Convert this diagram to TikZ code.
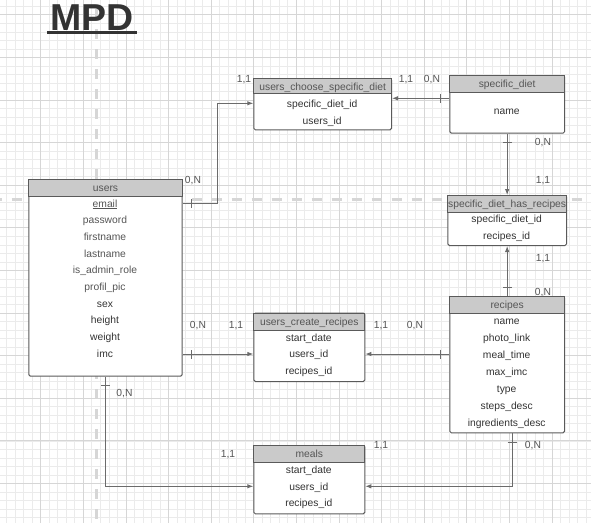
\documentclass[tikz,border=0pt]{standalone}
\usepackage{fontspec}
\setmainfont{Liberation Sans}
\usepackage{tikz}
\usetikzlibrary{arrows.meta,calc,positioning,decorations.markings}
\definecolor{gridminor}{HTML}{EBEBEB}
\definecolor{gridmajor}{HTML}{D6D6D6}
\definecolor{guide}{HTML}{D6D6D6}
\definecolor{frame}{HTML}{5A5A5A}
\definecolor{headfill}{HTML}{CACACA}
\definecolor{linkgray}{HTML}{6B6B6B}
\definecolor{inkgray}{HTML}{333333}
\definecolor{softink}{HTML}{555555}

\begin{document}
\begin{tikzpicture}[x=1pt,y=-1pt,
	table/.style={draw=frame,line width=1pt,fill=white,rounded corners=1.5pt,inner sep=0pt,anchor=north west},
	tablehead/.style={draw=frame,line width=1pt,fill=headfill,inner sep=0pt,anchor=north west,
		text=softink,text height=7.4pt,text depth=0pt,font=\fontsize{10.3}{12}\selectfont},
	field/.style={inner sep=0pt,text=inkgray,text height=7.4pt,text depth=0pt,font=\fontsize{10.3}{12}\selectfont},
	card/.style={inner sep=0pt,text=softink,text height=7.4pt,text depth=0pt,font=\fontsize{10.3}{12}\selectfont},
	link/.style={draw=linkgray,line width=0.9pt,-{Latex[length=6pt,width=4.5pt]},
		postaction={decorate,decoration={markings,mark=at position 9pt with {\draw[linkgray,line width=0.9pt,-] (0,-4.5pt) -- (0,4.5pt);}}}},
	]
	\useasboundingbox (0,0) rectangle (591,523);
	% grid
	\foreach \i in {0,...,70}
		\draw[gridminor,line width=0.7pt] ({-1.9+8.52*\i},0) -- ({-1.9+8.52*\i},523);
	\foreach \j in {0,...,62}
		\draw[gridminor,line width=0.7pt] (0,{-2.2+8.52*\j}) -- (591,{-2.2+8.52*\j});
	\foreach \i in {0,5,...,70}
		\draw[gridmajor,line width=0.8pt] ({-1.9+8.52*\i},0) -- ({-1.9+8.52*\i},523);
	\foreach \j in {2,7,...,62}
		\draw[gridmajor,line width=0.8pt] (0,{-2.2+8.52*\j}) -- (591,{-2.2+8.52*\j});
	\draw[guide,line width=3pt,dash pattern=on 10pt off 10pt] (96.7,9) -- (96.7,523);
	\draw[guide,line width=3pt,dash pattern=on 10pt off 10pt] (-8.3,199.3) -- (591,199.3);

	% title
	\node[inner sep=0pt,anchor=base,text=inkgray,font=\fontsize{37.5}{40}\selectfont\bfseries] (title) at (91.7,30) {MPD};
	\draw[inkgray,line width=3pt] ($(title.base west)+(-3,2.3)$) -- ($(title.base east)+(3,2.3)$);

	% users
	\node[table,minimum width=153.4pt,minimum height=196.4pt] (users) at (28.3,179.3) {};
	\node[tablehead,minimum width=153.4pt,minimum height=16.7pt] (users-t) at (28.3,179.3) {users};
	\node[field,text=softink] (users-email) at (105,203.3) {\underline{email}};
	\node[field,text=softink] (users-pass) at (105,220) {password};
	\node[field,text=softink] (users-first) at (105,236.7) {firstname};
	\node[field,text=softink] (users-last) at (105,253.4) {lastname};
	\node[field,text=softink] (users-admin) at (105,270.1) {is\_admin\_role};
	\node[field,text=softink] (users-pic) at (105,286.8) {profil\_pic};
	\node[field] (users-sex) at (105,303.5) {sex};
	\node[field] (users-height) at (105,320.2) {height};
	\node[field] (users-weight) at (105,336.9) {weight};
	\node[field] (users-imc) at (105,353.6) {imc};

	% users_choose_specific_diet
	\node[table,minimum width=137.7pt,minimum height=51pt] (choose) at (253.3,78.3) {};
	\node[tablehead,minimum width=137.7pt,minimum height=15pt] (choose-t) at (253.3,78.3) {users\_choose\_specific\_diet};
	\node[field] (choose-diet) at (322.2,103.3) {specific\_diet\_id};
	\node[field] (choose-users) at (322.2,120.7) {users\_id};

	% specific_diet
	\node[table,minimum width=114.7pt,minimum height=57.7pt] (sdiet) at (449.3,75) {};
	\node[tablehead,minimum width=114.7pt,minimum height=17.3pt] (sdiet-t) at (449.3,75) {specific\_diet};
	\node[field] (sdiet-name) at (506.7,111) {name};

	% specific_diet_has_recipes
	\node[table,minimum width=118.7pt,minimum height=50pt] (hasrec) at (447.3,195) {};
	\node[tablehead,minimum width=118.7pt,minimum height=16.7pt] (hasrec-t) at (447.3,195) {specific\_diet\_has\_recipes};
	\node[field] (hasrec-diet) at (506.7,219) {specific\_diet\_id};
	\node[field] (hasrec-recipes) at (506.7,235.7) {recipes\_id};

	% users_create_recipes
	\node[table,minimum width=111pt,minimum height=68.3pt] (create) at (253.3,312.7) {};
	\node[tablehead,minimum width=111pt,minimum height=17.3pt] (create-t) at (253.3,312.7) {users\_create\_recipes};
	\node[field] (create-date) at (308.8,337.3) {start\_date};
	\node[field] (create-users) at (308.8,354) {users\_id};
	\node[field] (create-recipes) at (308.8,370.7) {recipes\_id};

	% recipes
	\node[table,minimum width=114.7pt,minimum height=136.3pt] (recipes) at (449.3,296) {};
	\node[tablehead,minimum width=114.7pt,minimum height=16.7pt] (recipes-t) at (449.3,296) {recipes};
	\node[field] (recipes-name) at (506.7,320.3) {name};
	\node[field] (recipes-photo) at (506.7,337.4) {photo\_link};
	\node[field] (recipes-meal) at (506.7,354.5) {meal\_time};
	\node[field] (recipes-imc) at (506.7,371.6) {max\_imc};
	\node[field] (recipes-type) at (506.7,388.7) {type};
	\node[field] (recipes-steps) at (506.7,405.8) {steps\_desc};
	\node[field] (recipes-ingr) at (506.7,422.9) {ingredients\_desc};

	% meals
	\node[table,minimum width=111pt,minimum height=68.3pt] (meals) at (253.3,445) {};
	\node[tablehead,minimum width=111pt,minimum height=16.7pt] (meals-t) at (253.3,445) {meals};
	\node[field] (meals-date) at (308.8,469.3) {start\_date};
	\node[field] (meals-users) at (308.8,486.3) {users\_id};
	\node[field] (meals-recipes) at (308.8,503) {recipes\_id};

	% links
	\coordinate (sdiet-out) at ($(sdiet.north west)+(0,23.3)$);
	\coordinate (recipes-out) at ($(recipes.south)+(5,0)$);
	\draw[link] (users.east |- users-email) -- ++(35,0) |- (choose.west |- choose-diet);
	\draw[link] (sdiet-out) -- (sdiet-out -| choose.east);
	\draw[link] (sdiet.south) -- (hasrec.north);
	\draw[link] (recipes.north) -- (hasrec.south);
	\draw[link] (users.east |- create-users) -- (create.west |- create-users);
	\draw[link] (recipes.west |- create-users) -- (create.east |- create-users);
	\draw[link] (users.south) |- (meals.west |- meals-users);
	\draw[link] (recipes-out) |- (meals.east |- meals-users);

	% cardinalities
	\node[card] (c-users-choose) at (193,180) {0,N};
	\node[card] (c-choose-users) at (244,78.7) {1,1};
	\node[card] (c-choose-sdiet) at (406,78.3) {1,1};
	\node[card] (c-sdiet-choose) at (432,78.3) {0,N};
	\node[card] (c-sdiet-hasrec) at (543,141.7) {0,N};
	\node[card] (c-hasrec-sdiet) at (543,180) {1,1};
	\node[card] (c-hasrec-recipes) at (543,257.3) {1,1};
	\node[card] (c-recipes-hasrec) at (543,291.7) {0,N};
	\node[card] (c-users-create) at (198,324.3) {0,N};
	\node[card] (c-create-users) at (236,324.3) {1,1};
	\node[card] (c-create-recipes) at (381,325) {1,1};
	\node[card] (c-recipes-create) at (415,325) {0,N};
	\node[card] (c-users-meals) at (124.5,392.7) {0,N};
	\node[card] (c-meals-users) at (228,453.3) {1,1};
	\node[card] (c-recipes-meals) at (533,444.3) {0,N};
	\node[card] (c-meals-recipes) at (381,445) {1,1};
\end{tikzpicture}
\end{document}
